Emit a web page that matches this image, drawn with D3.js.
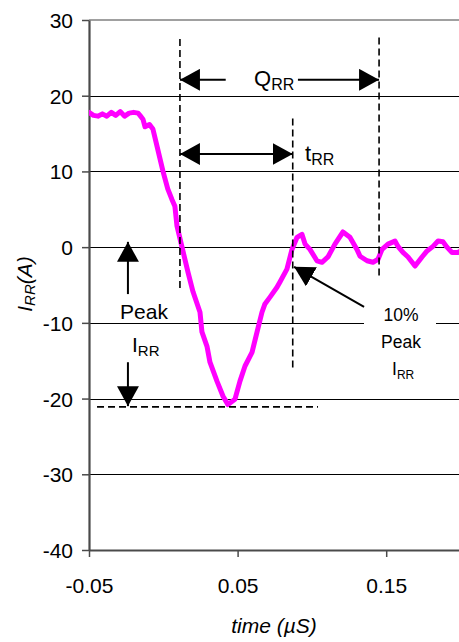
<!DOCTYPE html>
<html><head><meta charset="utf-8">
<script src="https://cdn.jsdelivr.net/npm/d3@7/dist/d3.min.js"></script>
<style>
html,body{margin:0;padding:0;background:#fff;}
svg{display:block;font-family:"Liberation Sans",Arial,sans-serif;}
</style></head>
<body>
<svg id="chart" width="459" height="642"></svg>
<script>
// Data: time (µS) and reverse recovery current I_RR (A)
const timeValues = [-0.05,-0.047,-0.044,-0.041,-0.038,-0.035,-0.032,-0.029,-0.026,-0.023,-0.02,-0.017,-0.0157,-0.0137,-0.0123,-0.0093,-0.007,-0.0042,-0.0002,0.003,0.0058,0.0078,0.0092,0.0126,0.0166,0.02,0.0247,0.026,0.0294,0.0314,0.0361,0.0402,0.0435,0.0482,0.0516,0.055,0.0597,0.0631,0.0664,0.0684,0.0718,0.0765,0.0785,0.0832,0.0866,0.09,0.0933,0.0954,0.0987,0.1034,0.1068,0.1108,0.1155,0.1209,0.1256,0.1303,0.1324,0.1371,0.1411,0.1445,0.1472,0.1512,0.1559,0.1579,0.1613,0.1647,0.1694,0.1741,0.1775,0.1815,0.1849,0.1882,0.1909,0.1943,0.1983,0.2];
const currentValues = [17.8,17.4,17.3,17.6,17.3,17.8,17.4,17.9,17.3,17.7,17.8,17.7,17.4,16.9,15.9,16.2,15.6,13.3,10.0,7.7,6.3,5.4,2.8,0.0,-3.3,-5.9,-8.6,-11.2,-13.1,-15.2,-17.7,-19.7,-20.8,-20.1,-17.7,-15.7,-13.9,-11.2,-8.6,-7.5,-6.6,-5.3,-4.6,-2.9,-0.3,1.3,1.7,0.4,-0.3,-1.8,-2.0,-1.3,0.4,2.0,1.3,-0.3,-1.2,-1.8,-2.0,-1.6,-0.3,0.4,0.8,0.1,-0.7,-1.3,-2.5,-1.3,-0.5,0.1,0.8,0.7,0.0,-0.7,-0.7,-0.5];
const xTickValues = [-0.05, 0.05, 0.15];
const xTickLabels = ["-0.05", "0.05", "0.15"];
const yTickValues = [-40,-30,-20,-10,0,10,20,30];
const yTickLabels = ["-40","-30","-20","-10","0","10","20","30"];

const svg = d3.select("#chart");
const x = d3.scaleLinear().domain([-0.05, 0.2]).range([89, 460.5]);
const y = d3.scaleLinear().domain([-40, 30]).range([550, 20]);

// defs: arrowheads
const defs = svg.append("defs");
defs.append("clipPath").attr("id","clip").append("rect")
  .attr("x",89).attr("y",14).attr("width",370).attr("height",540);
function marker(id){
  defs.append("marker").attr("id",id).attr("viewBox","0 0 20 22")
    .attr("refX",20).attr("refY",11).attr("markerWidth",20).attr("markerHeight",22)
    .attr("markerUnits","userSpaceOnUse").attr("orient","auto-start-reverse")
    .append("path").attr("d","M0,0 L20,11 L0,22 Z").attr("fill","#000");
}
marker("arr");

// gridlines
svg.append("g").selectAll("line").data(yTickValues.filter(v => v > -40 && v < 30)).join("line")
  .attr("x1", 89).attr("x2", 459).attr("y1", d => Math.round(y(d))+0.5).attr("y2", d => Math.round(y(d))+0.5)
  .attr("stroke", "#000").attr("stroke-width", 1.2);
// top border
svg.append("line").attr("x1",89).attr("x2",459).attr("y1",y(30)).attr("y2",y(30))
  .attr("stroke","#a0a0a0").attr("stroke-width",2);

// axes
const yAxis = d3.axisLeft(y).tickValues(yTickValues).tickFormat((d,i)=>yTickLabels[i]).tickSize(7).tickSizeOuter(0);
const gy = svg.append("g").attr("transform","translate(89,0)").call(yAxis);
gy.select(".domain").attr("stroke","#4a4a4a").attr("stroke-width",2.2);
gy.selectAll(".tick line").attr("stroke","#4a4a4a").attr("stroke-width",1.5);
gy.selectAll(".tick text").attr("font-size",21).attr("font-family","Liberation Sans, Arial, sans-serif")
  .attr("fill","#000").attr("x",-16).attr("dy","0.36em");

const xAxis = d3.axisBottom(x).tickValues(xTickValues).tickFormat((d,i)=>xTickLabels[i]).tickSize(7).tickSizeOuter(0);
const gx = svg.append("g").attr("transform","translate(0,550)").call(xAxis);
gx.select(".domain").attr("stroke","#4a4a4a").attr("stroke-width",2.2);
gx.selectAll(".tick line").attr("stroke","#4a4a4a").attr("stroke-width",1.5);
gx.selectAll(".tick text").attr("font-size",21).attr("font-family","Liberation Sans, Arial, sans-serif")
  .attr("fill","#000").attr("y",43).attr("dy",0);

// curve
const pts = timeValues.map((t,i)=>[t,currentValues[i]]);
svg.append("path").datum(pts).attr("clip-path","url(#clip)")
  .attr("d", d3.line().x(d=>x(d[0])).y(d=>y(d[1])).curve(d3.curveLinear))
  .attr("fill","none").attr("stroke","#ff00ff").attr("stroke-width",5)
  .attr("stroke-linejoin","round").attr("stroke-linecap","round");

// dashed reference lines
const dash = svg.append("g").attr("stroke","#000").attr("stroke-width",1.6).attr("stroke-dasharray","7,4").attr("fill","none");
dash.append("line").attr("x1",x(0.0112)).attr("x2",x(0.0112)).attr("y1",y(27.5)).attr("y2",y(-5.8));
dash.append("line").attr("x1",x(0.0871)).attr("x2",x(0.0871)).attr("y1",y(17.0)).attr("y2",y(-16.1));
dash.append("line").attr("x1",x(0.1452)).attr("x2",x(0.1452)).attr("y1",y(27.7)).attr("y2",y(-3.8));
dash.append("line").attr("x1",x(-0.0446)).attr("x2",x(0.1041)).attr("y1",y(-21.1)).attr("y2",y(-21.1));

// arrows
const arr = svg.append("g").attr("stroke","#000").attr("stroke-width",2).attr("fill","none");
// Q_RR
arr.append("line").attr("x1",x(0.042)).attr("x2",x(0.0112)).attr("y1",y(22.1)).attr("y2",y(22.1)).attr("marker-end","url(#arr)");
arr.append("line").attr("x1",x(0.0906)).attr("x2",x(0.1452)).attr("y1",y(22.1)).attr("y2",y(22.1)).attr("marker-end","url(#arr)");
// t_RR
arr.append("line").attr("x1",x(0.0112)).attr("x2",x(0.0871)).attr("y1",y(12.3)).attr("y2",y(12.3))
  .attr("marker-start","url(#arr)").attr("marker-end","url(#arr)");
// Peak up / down
arr.append("line").attr("x1",x(-0.0238)).attr("x2",x(-0.0238)).attr("y1",y(-6.2)).attr("y2",y(0.7)).attr("marker-end","url(#arr)");
arr.append("line").attr("x1",x(-0.0238)).attr("x2",x(-0.0238)).attr("y1",y(-15.2)).attr("y2",y(-21.0)).attr("marker-end","url(#arr)");

// 10% label box
svg.append("rect").attr("x",364).attr("y",300).attr("width",72).attr("height",88).attr("fill","#fff");
arr.raise();
arr.append("line").attr("x1",x(0.1351)).attr("x2",x(0.0880)).attr("y1",y(-7.9)).attr("y2",y(-2.6)).attr("marker-end","url(#arr)");

// texts
const txt = svg.append("g").attr("fill","#000").attr("font-family","Liberation Sans, Arial, sans-serif");
function sub(g, xPos, yPos, main, s, size, subSize, anchor){
  const t = g.append("text").attr("x",xPos).attr("y",yPos).attr("font-size",size).attr("text-anchor",anchor||"start");
  t.append("tspan").text(main);
  t.append("tspan").attr("font-size",subSize).attr("dy",4).text(s);
  return t;
}
sub(txt, 254, 86, "Q", "RR", 22, 16);
sub(txt, 305, 161, "t", "RR", 22, 16);
txt.append("text").attr("x",144).attr("y",319).attr("font-size",21).attr("text-anchor","middle").text("Peak");
sub(txt, 132, 352, "I", "RR", 21, 15);
txt.append("text").attr("x",401).attr("y",321).attr("font-size",17.5).attr("text-anchor","middle").text("10%");
txt.append("text").attr("x",401).attr("y",348).attr("font-size",17.5).attr("text-anchor","middle").text("Peak");
sub(txt, 392, 375, "I", "RR", 17.5, 12);

// axis titles
const yt = svg.append("text").attr("transform","translate(32,284) rotate(-90)")
  .attr("text-anchor","middle").attr("font-size",21).attr("font-style","italic")
  .attr("font-family","Liberation Sans, Arial, sans-serif");
yt.append("tspan").text("I");
yt.append("tspan").attr("font-size",15).attr("dy",3).text("RR");
yt.append("tspan").attr("dy",-3).text("(A)");
svg.append("text").attr("x",274).attr("y",633).attr("text-anchor","middle").attr("font-size",21)
  .attr("font-style","italic").attr("font-family","Liberation Sans, Arial, sans-serif").text("time (µS)");
</script>
</body></html>
